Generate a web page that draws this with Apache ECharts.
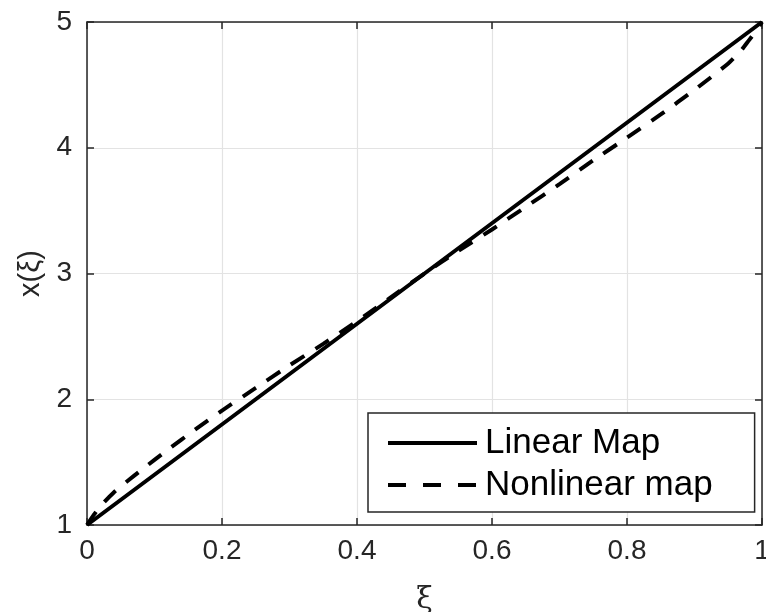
<!DOCTYPE html>
<html>
<head>
<meta charset="utf-8">
<script src="https://cdn.jsdelivr.net/npm/echarts@6/dist/echarts.min.js"></script>
<style>
html,body{margin:0;padding:0;background:#fff;overflow:hidden;width:100%;height:100%;}
#chart{width:766px;height:612px;position:absolute;left:0;top:0;}
</style>
</head>
<body>
<div id="chart"></div>
<script>
// Data
const xiLinear = [0, 0.5, 1];
const xLinear = [1, 3, 5];
const xiNonlinear = [0, 0.01, 0.02, 0.04, 0.06, 0.08, 0.12, 0.16, 0.2, 0.25, 0.3, 0.35, 0.4, 0.45, 0.5, 0.55, 0.6, 0.65, 0.7, 0.75, 0.8, 0.85, 0.9, 0.95, 0.97, 0.98, 0.99, 1];
const xNonlinear = [1, 1.08, 1.15, 1.26, 1.35, 1.435, 1.60, 1.758, 1.91, 2.09, 2.27, 2.44, 2.62, 2.81, 3.0, 3.18, 3.35, 3.53, 3.71, 3.90, 4.08, 4.265, 4.46, 4.67, 4.78, 4.85, 4.92, 5];
const seriesNames = ['Linear Map', 'Nonlinear map'];
const xTickMin = 0, xTickMax = 1, xTickStep = 0.2;
const yTickMin = 1, yTickMax = 5, yTickStep = 1;

const FONT = 'Liberation Sans, Arial, Helvetica, sans-serif';
const AX = '#262626';

const chart = echarts.init(document.getElementById('chart'), null, {renderer: 'canvas', width: 766, height: 612});
const baseX = {
  type: 'value', min: xTickMin, max: xTickMax, interval: xTickStep,
  axisLine: {show: true, onZero: false, lineStyle: {color: AX, width: 1.5}},
  axisTick: {show: true, inside: true, length: 7, lineStyle: {color: AX, width: 1.5}},
};
const baseY = {
  type: 'value', min: yTickMin, max: yTickMax, interval: yTickStep,
  axisLine: {show: true, onZero: false, lineStyle: {color: AX, width: 1.5}},
  axisTick: {show: true, inside: true, length: 7, lineStyle: {color: AX, width: 1.5}},
};
chart.setOption({
  animation: false,
  backgroundColor: '#fff',
  grid: {left: 87, right: 4, top: 22, bottom: 87, containLabel: false, outerBoundsMode: 'none'},
  xAxis: [
    Object.assign({}, baseX, {
      position: 'bottom',
      name: 'ξ', nameLocation: 'middle', nameGap: 60,
      nameTextStyle: {fontFamily: 'DejaVu Serif, serif', fontSize: 30, color: AX},
      axisLabel: {show: true, margin: 12, fontFamily: FONT, fontSize: 28, color: AX},
      splitLine: {show: true, lineStyle: {color: '#e3e3e3', width: 1.2}}
    }),
    Object.assign({}, baseX, {
      position: 'top', axisLabel: {show: false}, splitLine: {show: false}
    })
  ],
  yAxis: [
    Object.assign({}, baseY, {
      position: 'left',
      name: 'x(ξ)', nameLocation: 'middle', nameGap: 42, nameRotate: 90,
      nameTextStyle: {fontFamily: FONT, fontSize: 29, color: AX},
      axisLabel: {show: true, margin: 15, fontFamily: FONT, fontSize: 28, color: AX},
      splitLine: {show: true, lineStyle: {color: '#e3e3e3', width: 1.2}}
    }),
    Object.assign({}, baseY, {
      position: 'right', axisLabel: {show: false}, splitLine: {show: false}
    })
  ],
  legend: {
    show: true,
    orient: 'vertical',
    left: 368, top: 413,
    padding: [12, 42, 9, 18],
    itemGap: 6,
    itemWidth: 89, itemHeight: 14,
    backgroundColor: '#fff',
    borderColor: AX, borderWidth: 1.5, borderRadius: 0,
    itemStyle: {opacity: 0},
    textStyle: {fontFamily: FONT, fontSize: 35, color: '#000', lineHeight: 36, padding: [0, 0, 0, 3]},
    data: [
      {name: seriesNames[0], lineStyle: {color: '#000', width: 4, type: 'solid'}},
      {name: seriesNames[1], lineStyle: {color: '#000', width: 4, type: [18, 17]}}
    ]
  },
  series: [
    {
      name: seriesNames[0], type: 'line', xAxisIndex: 0, yAxisIndex: 0,
      data: xiLinear.map((v, i) => [v, xLinear[i]]),
      showSymbol: false, symbol: 'none',
      lineStyle: {color: '#000', width: 4, type: 'solid'},
      itemStyle: {color: '#000'}, z: 3
    },
    {
      name: seriesNames[1], type: 'line', xAxisIndex: 0, yAxisIndex: 0,
      data: xiNonlinear.map((v, i) => [v, xNonlinear[i]]),
      showSymbol: false, symbol: 'none', smooth: 0.2,
      lineStyle: {color: '#000', width: 4, type: [16, 13]},
      itemStyle: {color: '#000'}, z: 4
    }
  ]
});
</script>
</body>
</html>
